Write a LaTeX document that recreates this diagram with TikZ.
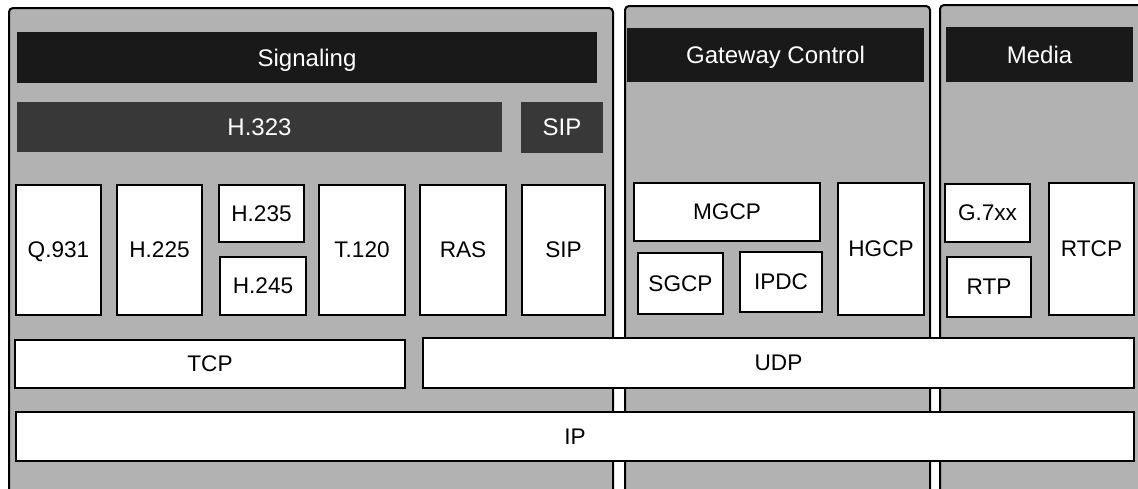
\documentclass[tikz,border=0pt]{standalone}
\usepackage{fontspec}
\setmainfont{Liberation Sans}

\tikzset{
  cell/.style n args={4}{minimum width={(#3-#1)*0.5pt}, minimum height={(#4-#2)*0.5pt}, anchor=center, at={({(#1+#3)/2},{(#2+#4)/2})}},
  panel/.style={draw=black, line width=1pt, fill=black!30, rounded corners=2pt, inner sep=0pt},
  head/.style={fill=black!90, text=white, inner sep=0pt, text depth=0pt, font=\fontsize{12}{14}\selectfont},
  subhead/.style={head, fill=black!78},
  proto/.style={draw=black, line width=1pt, fill=white, inner sep=0pt, text depth=0pt, font=\fontsize{11.3}{13}\selectfont},
}

\begin{document}
\begin{tikzpicture}[x=0.5pt,y=-0.5pt]
\clip (0,0) rectangle (1138,488);
\fill[white] (0,0) rectangle (1138,488);

% three columns
\node[panel, cell={9}{8}{613}{510}] (sigpanel) {};
\node[panel, cell={625}{6}{930}{510}] (gwpanel) {};
\node[panel, cell={940}{5}{1150}{510}] (mediapanel) {};

% headers
\node[head, cell={17}{32}{597}{83}] (signaling) {Signaling};
\node[subhead, cell={17}{102}{502}{152}] (h323) {H.323};
\node[subhead, cell={521}{102}{603}{153}] (sipgroup) {SIP};
\node[head, cell={627}{28}{924}{82}] (gwcontrol) {Gateway Control};
\node[head, cell={946}{27}{1133}{82}] (media) {Media};

% signaling protocols
\foreach \xa/\xb/\name/\txt in {16/101/q931/Q.931, 117/202/h225/H.225, 319/405/t120/T.120, 420/506/ras/RAS, 522/605/sip/SIP}
  \node[proto, cell={\xa}{185}{\xb}{315}] (\name) {\txt};
\node[proto, cell={219}{185}{304}{242}] (h235) {H.235};
\node[proto, cell={220}{257}{306}{315}] (h245) {H.245};

% gateway control protocols
\node[proto, cell={634}{183}{820}{241}] (mgcp) {MGCP};
\node[proto, cell={638}{253}{723}{314}] (sgcp) {SGCP};
\node[proto, cell={740}{252}{822}{312}] (ipdc) {IPDC};
\node[proto, cell={838}{183}{924}{315}] (hgcp) {HGCP};

% media protocols
\node[proto, cell={945}{184}{1030}{242}] (g7xx) {G.7xx};
\node[proto, cell={947}{257}{1031}{317}] (rtp) {RTP};
\node[proto, cell={1049}{183}{1134}{315}] (rtcp) {RTCP};

% transport and network
\node[proto, cell={15}{340}{405}{388}] (tcp) {TCP};
\node[proto, cell={423}{338}{1134}{388}] (udp) {UDP};
\node[proto, cell={16}{412}{1134}{461}] (ip) {IP};
\end{tikzpicture}
\end{document}
